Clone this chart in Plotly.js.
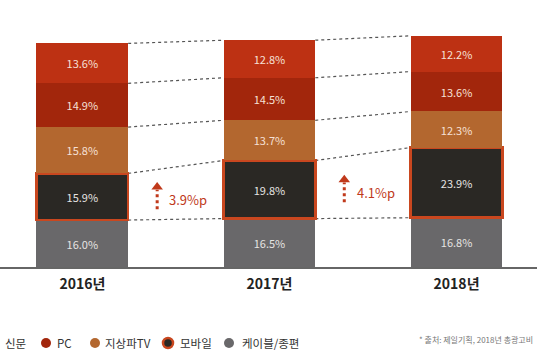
<!DOCTYPE html>
<html>
<head>
<meta charset="utf-8">
<script src="https://cdn.plot.ly/plotly-3.0.1.min.js"></script>
<style>html,body{margin:0;padding:0;background:#fff;}#chart{width:537px;height:360px;}</style>
</head>
<body>
<div id="chart"></div>
<script>
// ---- data ----
const years = ['2016년', '2017년', '2018년'];
// stacked bottom -> top
const seriesNames = ['케이블/종편', '모바일', '지상파TV', 'PC', '신문'];
const cable  = [16.0, 16.5, 16.8];
const mobile = [15.9, 19.8, 23.9];
const tv     = [15.8, 13.7, 12.3];
const pc     = [14.9, 14.5, 13.6];
const news   = [13.6, 12.8, 12.2];
const legendOrder = ['신문', 'PC', '지상파TV', '모바일', '케이블/종편'];
const sourceNote = '* 출처: 제일기획, 2018년 총광고비';

// ---- styles ----
const FONT = '"Noto Sans CJK KR", "Noto Sans", sans-serif';
const colors = {
  '케이블/종편': '#69686a',
  '모바일': '#2a2824',
  '지상파TV': '#b3672f',
  'PC': '#a2260c',
  '신문': '#bd3113'
};
const mobileBorder = '#c9471f';
const accent = '#c0391b';
const W = 537, H = 360, MB = 93;
const plotH = H - MB;
const barWidth = 0.49;
const xIdx = years.map((_, i) => i);

const seriesVals = [cable, mobile, tv, pc, news];
const traces = seriesVals.map((vals, k) => {
  const name = seriesNames[k];
  return {
    type: 'bar', x: xIdx, y: vals, name: name, width: barWidth,
    marker: {
      color: colors[name],
      line: name === '모바일' ? {color: mobileBorder, width: 2.5} : {width: 0}
    },
    texttemplate: '%{y:.1f}%',
    textposition: 'inside', insidetextanchor: 'middle', textangle: 0,
    textfont: {family: FONT, size: 11, color: name === '모바일' || name === '케이블/종편' ? '#e6e4e2' : '#f6e0d6'},
    showlegend: false, hoverinfo: 'skip'
  };
});

// cumulative boundaries
const cum = years.map((_, i) => {
  let s = 0; const out = [];
  seriesVals.forEach(v => { s += v[i]; out.push(s); });
  return out;
});

const shapes = [];
for (let i = 0; i < years.length - 1; i++) {
  for (let k = 0; k < seriesVals.length; k++) {
    shapes.push({
      type: 'line', xref: 'x', yref: 'y',
      x0: i + barWidth / 2, x1: i + 1 - barWidth / 2,
      y0: cum[i][k], y1: cum[i + 1][k],
      line: {color: '#555', width: 1.2, dash: 'dot'}, layer: 'below'
    });
  }
}

const annotations = [];
// growth arrows for mobile
for (let i = 0; i < years.length - 1; i++) {
  const c = cable[i] + mobile[i] / 2;
  const diff = (mobile[i + 1] - mobile[i]).toFixed(1);
  traces.push({
    type: 'scatter', mode: 'lines', x: [i + 0.4, i + 0.4], y: [c - 4.3, c + 2.4],
    line: {color: accent, width: 3, dash: 'dot'}, showlegend: false, hoverinfo: 'skip'
  });
  traces.push({
    type: 'scatter', mode: 'markers', x: [i + 0.4], y: [c + 3.3],
    marker: {symbol: 'triangle-up', size: 10, color: accent}, showlegend: false, hoverinfo: 'skip'
  });
  annotations.push({
    xref: 'x', yref: 'y', x: i + 0.455, y: c, xanchor: 'left', yanchor: 'middle', yshift: -3,
    text: diff + '%p', showarrow: false, font: {family: FONT, size: 13, color: accent}
  });
}

// custom legend (circle markers)
const legY = (plotH - 343) / plotH;
const legTextX = [3, 55, 103, 178, 240];
const legMarkX = [-8, 46, 95, 168, 229];
legendOrder.forEach((name, j) => {
  const cx = legMarkX[j] / W, r = 5 / W, ry = 5 / plotH;
  shapes.push({
    type: 'circle', xref: 'paper', yref: 'paper',
    x0: cx - r, x1: cx + r, y0: legY - ry, y1: legY + ry,
    fillcolor: colors[name],
    line: name === '모바일' ? {color: mobileBorder, width: 2.5} : {width: 0}
  });
  annotations.push({
    xref: 'paper', yref: 'paper', x: legTextX[j] / W, y: legY, xanchor: 'left', yanchor: 'middle',
    text: name, showarrow: false, font: {family: FONT, size: 11.5, color: '#333'}
  });
});
annotations.push({
  xref: 'paper', yref: 'paper', x: 535 / W, y: (plotH - 339) / plotH, xanchor: 'right', yanchor: 'middle',
  text: sourceNote, showarrow: false, font: {family: FONT, size: 8, color: '#777'}
});

const layout = {
  width: W, height: H,
  margin: {l: 0, r: 0, t: 0, b: MB, autoexpand: false},
  paper_bgcolor: '#fff', plot_bgcolor: '#fff',
  barmode: 'stack',
  showlegend: false,
  xaxis: {
    type: 'linear', range: [-0.44, 2.43], fixedrange: true,
    tickmode: 'array', tickvals: xIdx, ticktext: years,
    showline: true, linecolor: '#666', linewidth: 1.5,
    showgrid: false, zeroline: false, ticks: '', ticklabelstandoff: 4,
    tickfont: {family: FONT, size: 14, color: '#222', weight: 'bold'}
  },
  yaxis: {range: [0, 91], visible: false, showgrid: false, zeroline: false, fixedrange: true},
  shapes: shapes,
  annotations: annotations,
  font: {family: FONT}
};

Plotly.newPlot('chart', traces, layout, {displayModeBar: false, staticPlot: true});
</script>
</body>
</html>
